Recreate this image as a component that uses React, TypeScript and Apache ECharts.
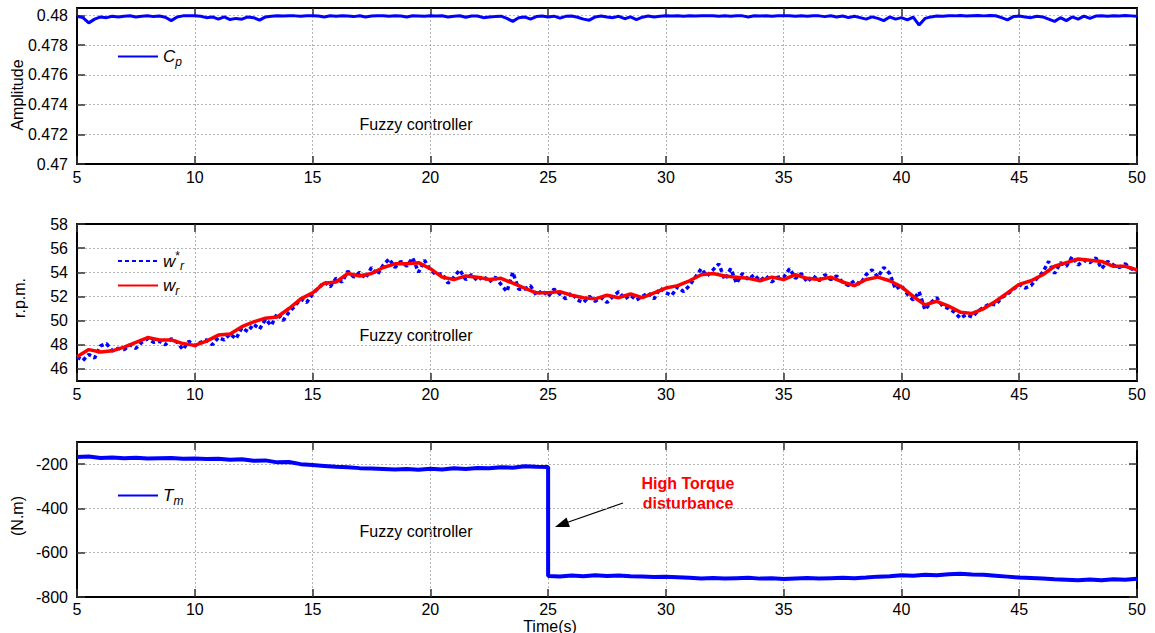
import React, { useEffect, useRef } from "react";
import * as echarts from "echarts";

// ---- data (sample time starts at 5 s) ----
const X_MIN = 5;
const X_MAX = 50;
const xTickStep = 5;

// Cp, sampled every 0.25 s
const cpStep = 0.25;
const cpValues = [
  0.47995, 0.47985, 0.4795, 0.47975,
  0.4799, 0.47985, 0.47995, 0.4799,
  0.47995, 0.47998, 0.4799, 0.47995,
  0.47998, 0.47992, 0.47996, 0.47988,
  0.47965, 0.4799, 0.47997, 0.47998,
  0.47998, 0.47995, 0.47985, 0.4799,
  0.47975, 0.4799, 0.47972, 0.4798,
  0.47975, 0.4799, 0.47985, 0.47968,
  0.4799, 0.47995, 0.47998, 0.47996,
  0.47998, 0.47997, 0.47995, 0.47998,
  0.47998, 0.47996, 0.4799, 0.47998,
  0.47995, 0.47998, 0.47996, 0.47992,
  0.47998, 0.4799, 0.47996, 0.47998,
  0.47998, 0.47995, 0.47998, 0.47996,
  0.4799, 0.47998, 0.47996, 0.47994,
  0.47998, 0.47996, 0.47998, 0.4799,
  0.47995, 0.47998, 0.47988, 0.47996,
  0.47996, 0.47985, 0.4799, 0.47992,
  0.47995, 0.4798, 0.4796, 0.47985,
  0.4799, 0.47975, 0.47992, 0.47996,
  0.4799, 0.47995, 0.47982, 0.47994,
  0.47996, 0.47988, 0.47975, 0.47968,
  0.4799, 0.47996, 0.4799, 0.47985,
  0.47994, 0.47978, 0.4799, 0.47972,
  0.47988, 0.47996, 0.4799, 0.47995,
  0.47998, 0.47996, 0.47998, 0.47994,
  0.47998, 0.47996, 0.47998, 0.47997,
  0.47998, 0.47994, 0.47998, 0.47995,
  0.47998, 0.47997, 0.4799, 0.47998,
  0.47996, 0.47998, 0.47994, 0.47998,
  0.47997, 0.47998, 0.47995, 0.47998,
  0.47994, 0.47998, 0.47997, 0.47992,
  0.47998, 0.4799, 0.47996, 0.47985,
  0.47994, 0.47985, 0.47975, 0.4799,
  0.4798, 0.47965, 0.4799, 0.47975,
  0.47985, 0.4797, 0.47988, 0.47935,
  0.4798, 0.4799, 0.47996, 0.47994,
  0.47998, 0.47997, 0.47999, 0.47996,
  0.47998, 0.47999, 0.47997, 0.47999,
  0.47998, 0.47985, 0.4797, 0.47992,
  0.47996, 0.4799, 0.47985, 0.47994,
  0.4799, 0.47975, 0.4796, 0.47985,
  0.47965, 0.4799, 0.47975, 0.47995,
  0.4798, 0.47996, 0.47998, 0.47994,
  0.47998, 0.47996, 0.47999, 0.47997,
  0.47995,
];

// reference speed w*_r, sampled every 0.25 s
const wRefStep = 0.25;
const wRefValues = [
  47.0, 46.7, 47.2, 46.9,
  47.9, 48.1, 47.5, 47.7,
  47.6, 48.0, 47.7, 48.2,
  48.5, 48.2, 48.3, 48.0,
  48.5, 48.2, 47.6, 48.3,
  47.9, 48.2, 48.4, 48.0,
  48.6, 48.4, 48.9, 48.5,
  49.4, 49.1, 49.7, 49.3,
  50.1, 49.6, 50.6, 50.0,
  50.7, 51.2, 51.8, 51.5,
  52.2, 52.7, 53.2, 52.8,
  53.5, 53.2, 54.1, 53.6,
  54.0, 53.5, 54.4, 53.8,
  54.6, 55.1, 54.4, 54.9,
  54.5, 55.2, 54.0, 55.0,
  54.2, 53.8, 53.9, 53.1,
  53.6, 54.2, 53.4, 53.8,
  53.3, 53.7, 53.2, 53.6,
  53.0, 52.4, 54.0, 52.6,
  52.6, 52.9, 52.1, 52.5,
  52.0, 52.6, 52.2, 51.8,
  52.3, 51.7, 51.5, 52.0,
  51.6, 51.9, 51.5, 52.0,
  52.4, 51.8, 52.1, 51.7,
  52.0, 52.3, 51.8, 52.7,
  52.3, 52.1, 52.8, 52.4,
  52.9, 53.6, 54.3, 53.7,
  54.2, 54.7, 53.4, 54.3,
  53.1, 53.9, 53.4, 53.8,
  53.3, 53.7, 53.2, 53.6,
  53.6, 54.3, 53.5, 53.9,
  53.2, 53.7, 53.3, 53.8,
  53.4, 53.7, 53.2, 52.9,
  53.3, 53.0, 53.8, 54.2,
  53.6, 54.4, 53.9, 52.6,
  52.9, 52.2, 51.7, 52.4,
  50.9, 51.5, 51.9, 51.2,
  51.0, 50.7, 50.2, 50.5,
  50.3, 50.8, 51.1, 51.4,
  51.3, 51.9, 52.2, 52.6,
  53.0, 52.7, 52.9, 53.5,
  54.0, 54.9, 53.9, 54.8,
  54.5, 55.3, 54.6, 55.0,
  54.8, 55.2, 54.3, 54.9,
  54.6, 54.4, 54.7, 54.3,
  54.1,
];

// rotor speed w_r, sampled every 0.5 s
const wrStep = 0.5;
const wrValues = [
  47.0, 47.6, 47.4, 47.5, 47.8, 48.2, 48.6, 48.4, 48.4, 48.1,
  47.95, 48.3, 48.8, 48.9, 49.5, 49.9, 50.2, 50.3, 51.0, 51.8,
  52.3, 53.1, 53.2, 53.9, 53.7, 53.9, 54.4, 54.7, 54.7, 54.8,
  54.3, 53.6, 53.4, 53.7, 53.6, 53.4, 53.5, 53.1, 52.7, 52.3,
  52.3, 52.4, 52.1, 51.9, 51.8, 52.1, 51.9, 52.2, 51.9, 52.3,
  52.7, 52.9, 53.3, 53.8, 53.9, 53.7, 53.6, 53.5, 53.3, 53.6,
  53.4, 53.8, 53.5, 53.4, 53.6, 53.2, 52.9, 53.4, 53.6, 53.3,
  52.8, 52.0, 51.3, 51.6, 51.2, 50.7, 50.6, 51.0, 51.6, 52.3,
  53.0, 53.3, 53.8, 54.5, 54.8, 55.1, 55.0, 54.9, 54.5, 54.5,
  54.2,
];

// mechanical torque Tm, every 0.5 s, before (5..25 s) and after (25..50 s) the disturbance
const tmStep = 0.5;
const tmStepTime = 25;
const tmBefore = [
  -168, -165, -172, -170, -173, -171, -175, -173, -172, -176,
  -175, -177, -176, -180, -178, -185, -183, -192, -190, -200,
  -204, -208, -212, -214, -218, -220, -222, -224, -222, -225,
  -221, -224, -219, -222, -217, -219, -214, -216, -210, -212,
  -213,
];
const tmAfter = [
  -705, -707, -703, -706, -702, -705, -703, -706, -707, -710,
  -709, -711, -713, -716, -714, -717, -715, -713, -717, -715,
  -719, -716, -714, -717, -715, -713, -715, -712, -708, -706,
  -702, -704, -700, -702, -697, -695, -698, -700, -704, -708,
  -712, -714, -717, -720, -722, -724, -721, -724, -720, -722,
  -718,
];

// axis ticks
const cpTicks = [0.47, 0.472, 0.474, 0.476, 0.478, 0.48];
const rpmTicks = [46, 48, 50, 52, 54, 56, 58];
const nmTicks = [-800, -600, -400, -200];

const cpRange = [0.47, 0.4805];
const rpmRange = [45, 58];
const nmRange = [-800, -100];

const FONT = "Liberation Sans, Arial, sans-serif";

function toPairs(vals: number[], start: number, step: number) {
  return vals.map((v, i) => [start + i * step, v]);
}

const legendRich = {
  i: { fontFamily: FONT, fontStyle: "italic", fontSize: 17, lineHeight: 22, color: "#000" },
  sub: { fontFamily: FONT, fontStyle: "italic", fontSize: 12, lineHeight: 10, verticalAlign: "bottom", color: "#000" },
  sup: { fontFamily: FONT, fontSize: 12, lineHeight: 10, verticalAlign: "top", color: "#000" },
};

const legendLabels: Record<string, string> = {
  Cp: "{i|C}{sub|p}",
  "w*r": "{i|w}{sup|*}{sub|r}",
  wr: "{i|w}{sub|r}",
  Tm: "{i|T}{sub|m}",
};

export default function App() {
  const ref = useRef<HTMLDivElement>(null);

  useEffect(() => {
    if (!ref.current) return;
    const chart = echarts.init(ref.current, undefined, { renderer: "svg" });

    const grids = [
      { left: 77, right: 18, top: 8, height: 156 },
      { left: 77, right: 18, top: 224, height: 157 },
      { left: 77, right: 18, top: 442, height: 155 },
    ];
    const yRanges = [cpRange, rpmRange, nmRange];
    const yTicks = [cpTicks, rpmTicks, nmTicks];

    const axisLine = { show: true, onZero: false, lineStyle: { color: "#000", width: 2 } };
    const tick = { show: true, inside: true, length: 8, lineStyle: { color: "#333", width: 1.5 } };
    const split = { show: true, lineStyle: { color: "#b4b4b4", width: 1, type: [2, 2] } };

    const xAxes: any[] = [];
    const yAxes: any[] = [];
    for (let g = 0; g < 3; g++) {
      xAxes.push({
        gridIndex: g,
        type: "value",
        min: X_MIN,
        max: X_MAX,
        interval: xTickStep,
        axisLine,
        axisTick: tick,
        axisLabel: { fontSize: 16, lineHeight: 16, color: "#000", fontFamily: FONT, margin: g === 2 ? 4 : 5 },
        splitLine: split,
      });
    }
    for (let g = 0; g < 3; g++) {
      xAxes.push({
        gridIndex: g,
        type: "value",
        position: "top",
        min: X_MIN,
        max: X_MAX,
        interval: xTickStep,
        axisLine,
        axisTick: tick,
        axisLabel: { show: false },
        splitLine: { show: false },
      });
    }
    for (let g = 0; g < 3; g++) {
      yAxes.push({
        gridIndex: g,
        type: "value",
        min: yRanges[g][0],
        max: yRanges[g][1],
        axisLine,
        axisTick: { ...tick, customValues: yTicks[g] },
        axisLabel: { fontSize: 16, color: "#000", fontFamily: FONT, margin: 9, customValues: yTicks[g] },
        splitLine: split,
      });
    }
    for (let g = 0; g < 3; g++) {
      yAxes.push({
        gridIndex: g,
        type: "value",
        position: "right",
        min: yRanges[g][0],
        max: yRanges[g][1],
        axisLine,
        axisTick: { ...tick, customValues: yTicks[g] },
        axisLabel: { show: false },
        splitLine: { show: false },
      });
    }

    const tmData = [
      ...toPairs(tmBefore, X_MIN, tmStep),
      ...toPairs(tmAfter, tmStepTime, tmStep),
    ];

    const lineBase = { type: "line", showSymbol: false, symbol: "none", silent: true };

    const legendBase = {
      orient: "vertical",
      left: 117,
      padding: 0,
      itemWidth: 40,
      itemHeight: 14,
      itemGap: 5,
      selectedMode: false,
      itemStyle: { opacity: 0 },
      formatter: (name: string) => legendLabels[name] || name,
      textStyle: { fontFamily: FONT, fontSize: 17, color: "#000", rich: legendRich },
    };

    const nameText = (text: string, x: number, y: number) => ({
      type: "text",
      x,
      y,
      rotation: Math.PI / 2,
      style: { text, fontFamily: FONT, fontSize: 16, fill: "#000", align: "center", verticalAlign: "middle" },
    });
    const plainText = (text: string, x: number, y: number) => ({
      type: "text",
      x,
      y,
      style: { text, fontFamily: FONT, fontSize: 16, fill: "#000", align: "center", verticalAlign: "middle" },
    });

    chart.setOption({
      animation: false,
      backgroundColor: "#fff",
      textStyle: { fontFamily: FONT },
      grid: grids,
      xAxis: xAxes,
      yAxis: yAxes,
      legend: [
        { ...legendBase, top: 48, data: ["Cp"] },
        { ...legendBase, top: 250, data: ["w*r", "wr"] },
        { ...legendBase, top: 487, data: ["Tm"] },
      ],
      series: [
        {
          ...lineBase,
          name: "Cp",
          xAxisIndex: 0,
          yAxisIndex: 0,
          data: toPairs(cpValues, X_MIN, cpStep),
          lineStyle: { color: "#0000ff", width: 3 },
          itemStyle: { color: "#0000ff" },
        },
        {
          ...lineBase,
          name: "w*r",
          xAxisIndex: 1,
          yAxisIndex: 1,
          data: toPairs(wRefValues, X_MIN, wRefStep),
          lineStyle: { color: "#0000ff", width: 3.5, type: [4, 3] },
          itemStyle: { color: "#0000ff" },
        },
        {
          ...lineBase,
          name: "wr",
          xAxisIndex: 1,
          yAxisIndex: 1,
          data: toPairs(wrValues, X_MIN, wrStep),
          lineStyle: { color: "#ff0000", width: 3.5 },
          itemStyle: { color: "#ff0000" },
        },
        {
          ...lineBase,
          name: "Tm",
          xAxisIndex: 2,
          yAxisIndex: 2,
          data: tmData,
          lineStyle: { color: "#0000ff", width: 4 },
          itemStyle: { color: "#0000ff" },
        },
      ],
      graphic: [
        nameText("Amplitude", 17, 95),
        nameText("r.p.m.", 19, 298),
        nameText("(N.m)", 17, 516),
        {
          type: "text",
          x: 550,
          y: 626,
          style: { text: "Time(s)", fontFamily: FONT, fontSize: 16, lineHeight: 14, fill: "#000", align: "center", verticalAlign: "middle" },
        },
        plainText("Fuzzy controller", 416, 124),
        plainText("Fuzzy controller", 416, 335),
        plainText("Fuzzy controller", 416, 531),
        {
          type: "text",
          x: 688,
          y: 493,
          style: {
            text: "High Torque\ndisturbance",
            fontFamily: FONT,
            fontSize: 16,
            fontWeight: "bold",
            lineHeight: 20,
            fill: "#ff0000",
            align: "center",
            verticalAlign: "middle",
          },
        },
        {
          type: "line",
          shape: { x1: 623, y1: 503, x2: 567, y2: 522.5 },
          style: { stroke: "#000", lineWidth: 1.2 },
        },
        {
          type: "polygon",
          shape: { points: [[555, 527], [569.9, 527.0], [566.5, 517.6]] },
          style: { fill: "#000" },
        },
      ],
    });

    return () => chart.dispose();
  }, []);

  return (
    <div
      ref={ref}
      style={{ position: "fixed", left: 0, top: 0, width: 1155, height: 633, background: "#fff" }}
    />
  );
}
